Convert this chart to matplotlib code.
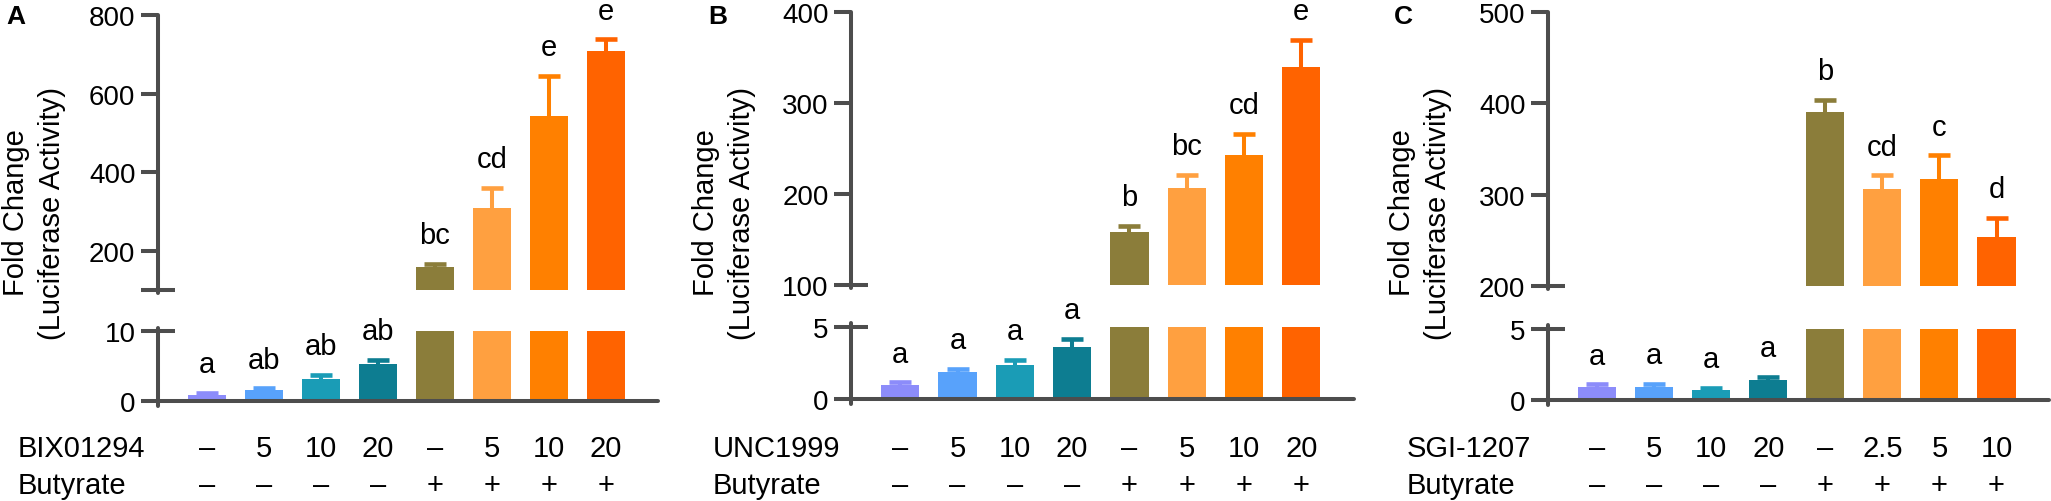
import numpy as np
import matplotlib.pyplot as plt
from matplotlib.transforms import blended_transform_factory

plt.rcParams.update({
    "font.family": ["Liberation Sans", "DejaVu Sans"],
    "font.size": 20,
})

W, H = 2051, 502
AX_COLOR = "#4d4d4d"
BAR_COLORS = ["#8c8cfa", "#58a2fb", "#1a9cb6", "#0d7d91",
              "#8b7d3a", "#ffa040", "#ff8000", "#ff6300"]

BUTYRATE = ["–", "–", "–", "–", "+", "+", "+", "+"]

# ---- panel A : BIX01294 ----
A_doses = ["–", "5", "10", "20", "–", "5", "10", "20"]
A_means = [0.86, 1.59, 3.1, 5.3, 158, 310, 543, 708]
A_caps = [1.2, 1.8, 3.7, 5.9, 167, 360, 645, 738]
A_letters = ["a", "ab", "ab", "ab", "bc", "cd", "e", "e"]

# ---- panel B : UNC1999 ----
B_doses = ["–", "5", "10", "20", "–", "5", "10", "20"]
B_means = [0.98, 1.86, 2.37, 3.6, 158, 207, 243, 340]
B_caps = [1.15, 2.07, 2.7, 4.2, 165, 221, 266, 369]
B_letters = ["a", "a", "a", "a", "b", "bc", "cd", "e"]

# ---- panel C : SGI-1207 ----
C_doses = ["–", "5", "10", "20", "–", "2.5", "5", "10"]
C_means = [0.93, 0.95, 0.68, 1.42, 390, 306, 317, 254]
C_caps = [1.1, 1.15, 0.85, 1.6, 404, 321, 343, 275]
C_letters = ["a", "a", "a", "a", "b", "cd", "c", "d"]

PANELS = [
    dict(tag="A", drug="BIX01294", doses=A_doses, means=A_means, caps=A_caps,
         letters=A_letters, left=158, right=658,
         up=(16, 291), up_lim=(100, 800), up_ticks=[200, 400, 600, 800],
         break_label="", lo=(332, 402), lo_lim=(0, 10),
         ylab_x=34, tag_x=16, name_x=18),
    dict(tag="B", drug="UNC1999", doses=B_doses, means=B_means, caps=B_caps,
         letters=B_letters, left=851, right=1354,
         up=(13, 286), up_lim=(100, 400), up_ticks=[200, 300, 400],
         break_label="100", lo=(328, 400), lo_lim=(0, 5),
         ylab_x=724, tag_x=718, name_x=713),
    dict(tag="C", drug="SGI-1207", doses=C_doses, means=C_means, caps=C_caps,
         letters=C_letters, left=1548, right=2049,
         up=(13, 287), up_lim=(200, 500), up_ticks=[300, 400, 500],
         break_label="200", lo=(330, 401), lo_lim=(0, 5),
         ylab_x=1420, tag_x=1403, name_x=1407),
]

XLIM = (-0.86, 7.92)
TICK_LEN = 12.2
LW = 2.9
TICK_FS = 20
ROW_FS = 21


def add_px_axes(fig, left, top, right, bottom):
    return fig.add_axes([left / W, 1 - bottom / H,
                         (right - left) / W, (bottom - top) / H])


def style_axis(ax, ylim, major, major_labels, minor, minor_label, bottom):
    ax.set_xlim(*XLIM)
    ax.set_ylim(*ylim)
    for s in ("top", "right"):
        ax.spines[s].set_visible(False)
    ax.spines["bottom"].set_visible(bottom)
    for s in ("left", "bottom"):
        ax.spines[s].set_linewidth(LW)
        ax.spines[s].set_color(AX_COLOR)
        ax.spines[s].set_capstyle("round")
    ax.set_xticks([])
    ax.set_yticks(major)
    ax.set_yticklabels(major_labels)
    ax.set_yticks([minor], minor=True)
    ax.set_yticklabels([minor_label], minor=True)
    ax.tick_params(axis="y", which="major", direction="out", length=TICK_LEN,
                   width=LW, color=AX_COLOR, pad=4, labelsize=TICK_FS)
    ax.tick_params(axis="y", which="minor", direction="inout",
                   length=2 * TICK_LEN, width=LW, color=AX_COLOR, pad=4,
                   labelsize=TICK_FS)
    ax.patch.set_alpha(0)


def draw_bars(ax, means, caps):
    x = np.arange(len(means))
    means = np.array(means)
    caps = np.array(caps)
    ax.bar(x, means, width=0.667, color=BAR_COLORS, zorder=2)
    for i in range(len(x)):
        _, caplines, _ = ax.errorbar(
            x[i], means[i], yerr=[[0], [caps[i] - means[i]]],
            fmt="none", ecolor=BAR_COLORS[i], elinewidth=2.9,
            capsize=7.6, capthick=3.3, zorder=1)
        caplines[0].set_visible(False)   # only the upper cap


fig = plt.figure(figsize=(W / 100, H / 100), dpi=100)

for p in PANELS:
    ax_up = add_px_axes(fig, p["left"], p["up"][0], p["right"], p["up"][1])
    ax_lo = add_px_axes(fig, p["left"], p["lo"][0], p["right"], p["lo"][1])

    style_axis(ax_up, p["up_lim"], p["up_ticks"],
               [str(t) for t in p["up_ticks"]],
               p["up_lim"][0], p["break_label"], bottom=False)
    style_axis(ax_lo, p["lo_lim"], [0], ["0"],
               p["lo_lim"][1], str(p["lo_lim"][1]), bottom=True)

    # y-axis line runs a little past the break ticks
    u0, u1 = p["up_lim"]
    ax_up.spines["left"].set_bounds(u0 - 0.012 * (u1 - u0), u1)
    l0, l1 = p["lo_lim"]
    ax_lo.spines["left"].set_bounds(l0 - 0.07 * (l1 - l0), l1 + 0.05 * (l1 - l0))

    draw_bars(ax_up, p["means"], p["caps"])
    draw_bars(ax_lo, p["means"], p["caps"])

    for i, (cap, let) in enumerate(zip(p["caps"], p["letters"])):
        ax = ax_lo if cap <= l1 else ax_up
        ax.annotate(let, (i, cap), xytext=(0, 15), textcoords="offset points",
                    ha="center", va="baseline", fontsize=21,
                    annotation_clip=False)

    # treatment rows under the axis
    tr = blended_transform_factory(ax_lo.transData, fig.transFigure)
    y_drug = 1 - 457 / H
    y_but = 1 - 494 / H
    for i in range(len(p["doses"])):
        ax_lo.text(i, y_drug, p["doses"][i], transform=tr, ha="center",
                   va="baseline", fontsize=ROW_FS)
        ax_lo.text(i, y_but, BUTYRATE[i], transform=tr, ha="center",
                   va="baseline", fontsize=ROW_FS)
    fig.text(p["name_x"] / W, y_drug, p["drug"], ha="left", va="baseline",
             fontsize=ROW_FS)
    fig.text(p["name_x"] / W, y_but, "Butyrate", ha="left", va="baseline",
             fontsize=ROW_FS)

    fig.text(p["ylab_x"] / W, 1 - 213 / H,
             "Fold Change\n(Luciferase Activity)", rotation=90,
             ha="center", va="center", multialignment="center",
             fontsize=21, linespacing=1.4)
    fig.text(p["tag_x"] / W, 1 - 17 / H, p["tag"], ha="center", va="center",
             fontsize=19, fontweight="bold")

fig.savefig("out.png", dpi=100)
